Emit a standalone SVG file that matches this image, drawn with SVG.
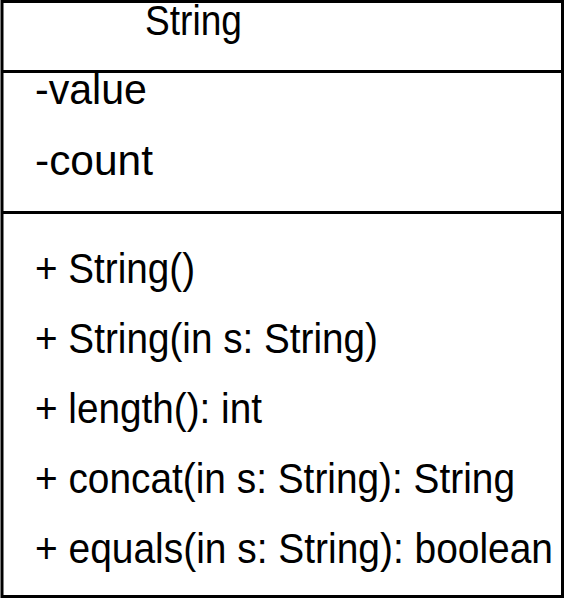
<svg xmlns="http://www.w3.org/2000/svg" width="565" height="600" viewBox="0 0 565 600">
<style>
.t{font-family:"Liberation Sans","DejaVu Sans",sans-serif;font-size:43px;fill:#000}
.ln{stroke:#000;stroke-width:3;fill:none}
</style>
<rect x="0" y="0" width="565" height="600" fill="#fff"/>
<g id="class-String">
<rect class="ln" x="2" y="1.5" width="560.5" height="595" fill="#fff"/>
<line class="ln" x1="2" y1="71.5" x2="562.5" y2="71.5"/>
<line class="ln" x1="2" y1="212.5" x2="562.5" y2="212.5"/>
<text class="t" x="145" y="35" textLength="97" lengthAdjust="spacingAndGlyphs">String</text>
<text class="t" x="35" y="104" textLength="112" lengthAdjust="spacingAndGlyphs">-value</text>
<text class="t" x="35" y="175" textLength="118" lengthAdjust="spacingAndGlyphs">-count</text>
<text class="t" x="35" y="283" textLength="160" lengthAdjust="spacingAndGlyphs">+ String()</text>
<text class="t" x="35" y="353" textLength="343" lengthAdjust="spacingAndGlyphs">+ String(in s: String)</text>
<text class="t" x="35" y="423" textLength="227" lengthAdjust="spacingAndGlyphs">+ length(): int</text>
<text class="t" x="35" y="493" textLength="480" lengthAdjust="spacingAndGlyphs">+ concat(in s: String): String</text>
<text class="t" x="35" y="563" textLength="518" lengthAdjust="spacingAndGlyphs">+ equals(in s: String): boolean</text>
</g>
<g id="connectors"></g>
</svg>
